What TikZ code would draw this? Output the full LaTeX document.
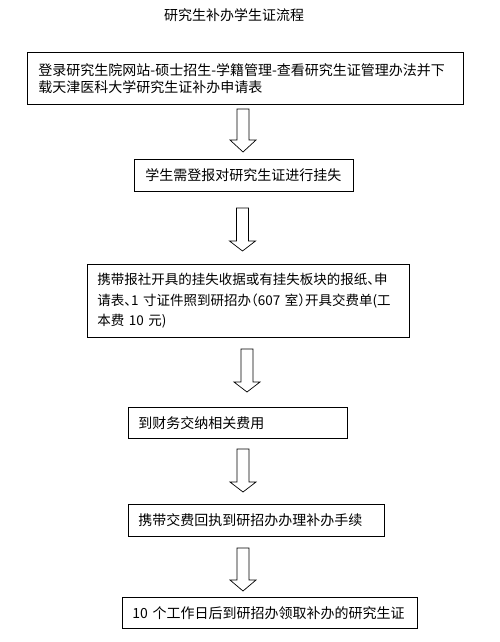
\documentclass[tikz,border=0pt]{standalone}
\usepackage{fontspec}
\setmainfont{Noto Sans CJK SC}
\usepackage{tikz}
\tikzset{
  stepnode/.style = {rectangle, draw=black, line width=0.8pt, anchor=north west,
    align=left, inner ysep=0pt, font=\fontsize{14}{17}\selectfont},% etape
  step_box/.style n args = {3}{stepnode, minimum width=#1pt, minimum height=#2pt,
    inner xsep=#3pt, text width=#1pt-2*#3pt},% etape, taille
  block_arrow/.style = {draw=black, line width=0.7pt, fill=white,
    line join=miter}% fleche creuse
}
\newcommand{\halfl}[1]{\makebox[0.5em][l]{#1}}% ponctuation etroite
\newcommand{\halfr}[1]{\makebox[0.5em][r]{#1}}

\begin{document}
\begin{tikzpicture}[x=1pt, y=-1pt]
    \useasboundingbox (0,0) rectangle (500,642);
    \node (title) at (234,15) {\fontsize{14}{17}\selectfont 研究生补办学生证流程};
    \node [step_box={436}{52}{11}] (login) at (27,52)
      {登录研究生院网站-硕士招生-学籍管理-查看研究生证管理办法并下\\载天津医科大学研究生证补办申请表};
    \node [step_box={219}{32}{11}] (report) at (134,159)
      {学生需登报对研究生证进行挂失};
    \node [step_box={322}{73}{10}, font=\fontsize{13.5}{20.5}\selectfont] (bill) at (87,264)
      {携带报社开具的挂失收据或有挂失板块的报纸\halfl{、}申\\请表\halfl{、}1~寸证件照到研招办\halfr{（}607~室\halfl{）}开具交费单(工\\本费~10~元)};
    \node [step_box={219}{31}{10}] (pay) at (128,407)
      {到财务交纳相关费用};
    \node [step_box={256}{32}{10}] (apply) at (128,504)
      {携带交费回执到研招办办理补办手续};
    \node [step_box={295}{31}{10}] (collect) at (122,597)
      {10~个工作日后到研招办领取补办的研究生证};
    % fleches
    \foreach \n/\cx/\ytop/\shaft/\head in
      {1/243/109/31/12, 2/242.5/208/33/10, 3/247/349/33/10,
       4/243/449/33/10, 5/243/548/32/11}{
      \coordinate (arrow\n) at (\cx,\ytop);
      \draw [block_arrow] (arrow\n) ++(-6,0) -- ++(12,0) -- ++(0,\shaft)
        -- ++(7,0) -- ++(-13,\head) -- ++(-13,-\head) -- ++(7,0) -- cycle;
    }
\end{tikzpicture}
\end{document}
